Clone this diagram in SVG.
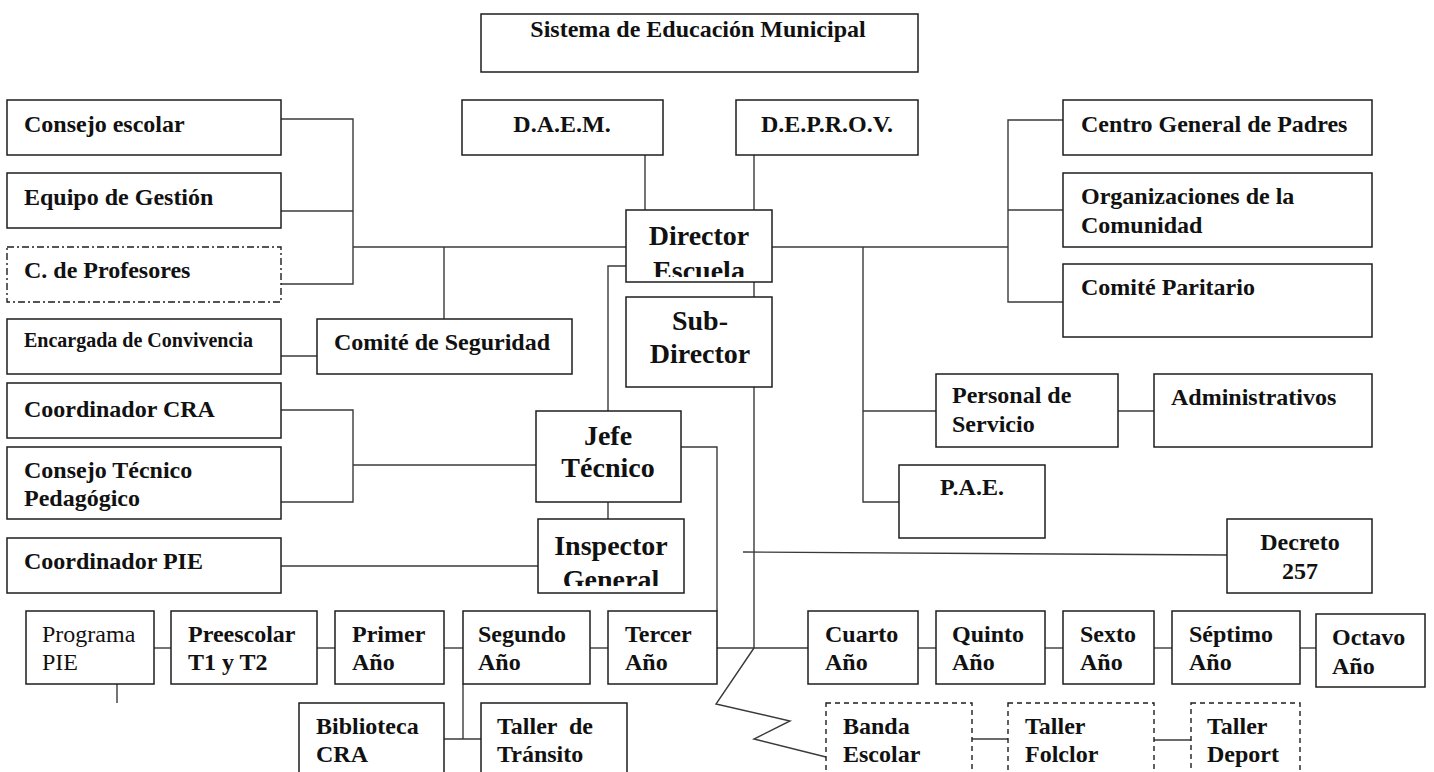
<svg xmlns="http://www.w3.org/2000/svg" width="1434" height="772" viewBox="0 0 1434 772">
<style>
  .box { fill: #ffffff; stroke: #1e1e1e; stroke-width: 1.5; }
  .dashdot { fill: #ffffff; stroke: #1e1e1e; stroke-width: 1.4; stroke-dasharray: 7 3 2 3; }
  .dash { fill: #ffffff; stroke: #1e1e1e; stroke-width: 1.4; stroke-dasharray: 5 4; }
  .conn { fill: none; stroke: #3a3a3a; stroke-width: 1.4; }
  text { font-family: "Liberation Serif", "Times New Roman", serif; fill: #111111; }
  .t { font-size: 24px; font-weight: bold; }
  .tn { font-size: 24px; font-weight: normal; }
  .ts { font-size: 20px; font-weight: bold; }
  .tl { font-size: 28px; font-weight: bold; }
  .c { text-anchor: middle; }
</style>
<defs>
  <clipPath id="clipDirector"><rect x="626" y="210" width="146" height="67"/></clipPath>
  <clipPath id="clipInspector"><rect x="538" y="519" width="146" height="67"/></clipPath>
</defs>
<rect width="1434" height="772" fill="#ffffff"/>

<g id="connectors">
  <!-- left group to Director -->
  <polyline class="conn" points="281,119 353,119 353,284 281,284"/>
  <line class="conn" x1="281" y1="211" x2="353" y2="211"/>
  <line class="conn" x1="353" y1="247" x2="626" y2="247"/>
  <line class="conn" x1="444" y1="247" x2="444" y2="319"/>
  <line class="conn" x1="281" y1="356" x2="317" y2="356"/>
  <!-- top -->
  <line class="conn" x1="645" y1="155" x2="645" y2="210"/>
  <line class="conn" x1="754" y1="155" x2="754" y2="210"/>
  <!-- right group -->
  <line class="conn" x1="772" y1="247" x2="1008" y2="247"/>
  <polyline class="conn" points="1063,120 1008,120 1008,302 1063,302"/>
  <line class="conn" x1="1008" y1="210" x2="1063" y2="210"/>
  <polyline class="conn" points="863,247 863,502 899,502"/>
  <line class="conn" x1="863" y1="411" x2="936" y2="411"/>
  <line class="conn" x1="1118" y1="411" x2="1154" y2="411"/>
  <!-- Director to Sub-Director and down -->
  <line class="conn" x1="754" y1="282" x2="754" y2="297"/>
  <line class="conn" x1="754" y1="387" x2="754" y2="648"/>
  <!-- Director to Jefe Tecnico -->
  <polyline class="conn" points="626,266 608,266 608,411"/>
  <line class="conn" x1="608" y1="502" x2="608" y2="519"/>
  <polyline class="conn" points="681,447 717,447 717,611"/>
  <!-- CRA / Consejo Tecnico -->
  <polyline class="conn" points="281,410 353,410 353,502 281,502"/>
  <line class="conn" x1="353" y1="465" x2="536" y2="465"/>
  <!-- Coordinador PIE -->
  <line class="conn" x1="281" y1="566" x2="538" y2="566"/>
  <!-- Decreto -->
  <line class="conn" x1="743" y1="552" x2="1227" y2="555"/>
  <!-- year row -->
  <line class="conn" x1="117" y1="684" x2="117" y2="703"/>
  <line class="conn" x1="154" y1="648" x2="171" y2="648"/>
  <line class="conn" x1="317" y1="648" x2="335" y2="648"/>
  <line class="conn" x1="444" y1="648" x2="463" y2="648"/>
  <line class="conn" x1="590" y1="648" x2="608" y2="648"/>
  <line class="conn" x1="717" y1="648" x2="808" y2="648"/>
  <line class="conn" x1="918" y1="648" x2="936" y2="648"/>
  <line class="conn" x1="1045" y1="648" x2="1063" y2="648"/>
  <line class="conn" x1="1154" y1="648" x2="1172" y2="648"/>
  <line class="conn" x1="1300" y1="648" x2="1316" y2="648"/>
  <!-- Segundo to Biblioteca / Taller -->
  <line class="conn" x1="463" y1="684" x2="463" y2="739"/>
  <line class="conn" x1="444" y1="739" x2="481" y2="739"/>
  <!-- zigzag to Banda -->
  <polyline class="conn" points="754,648 716,704 790,721 754,739 826,757"/>
  <line class="conn" x1="972" y1="739" x2="1008" y2="739"/>
  <line class="conn" x1="1154" y1="740" x2="1191" y2="740"/>
</g>

<g id="sistema"><rect class="box" x="481" y="14" width="437" height="58"/><text class="t c" x="698" y="37">Sistema de Educación Municipal</text></g>
<g id="daem"><rect class="box" x="462" y="100" width="201" height="55"/><text class="t c" x="562" y="132">D.A.E.M.</text></g>
<g id="deprov"><rect class="box" x="736" y="100" width="182" height="55"/><text class="t c" x="827" y="132">D.E.P.R.O.V.</text></g>

<g id="consejo-escolar"><rect class="box" x="7" y="100" width="274" height="55"/><text class="t" x="24" y="132">Consejo escolar</text></g>
<g id="equipo-gestion"><rect class="box" x="7" y="173" width="274" height="55"/><text class="t" x="24" y="205">Equipo de Gestión</text></g>
<g id="c-profesores"><rect class="dashdot" x="7" y="247" width="274" height="55"/><text class="t" x="24" y="278">C. de Profesores</text></g>
<g id="encargada"><rect class="box" x="7" y="319" width="274" height="55"/><text class="ts" x="24" y="347">Encargada de Convivencia</text></g>
<g id="comite-seguridad"><rect class="box" x="317" y="319" width="255" height="55"/><text class="t" x="334" y="350">Comité de Seguridad</text></g>
<g id="coord-cra"><rect class="box" x="7" y="383" width="274" height="55"/><text class="t" x="24" y="417">Coordinador CRA</text></g>
<g id="consejo-tecnico"><rect class="box" x="7" y="447" width="274" height="72"/><text class="t" x="24" y="478">Consejo Técnico</text><text class="t" x="24" y="506">Pedagógico</text></g>
<g id="coord-pie"><rect class="box" x="7" y="538" width="274" height="55"/><text class="t" x="24" y="569">Coordinador PIE</text></g>

<g id="director"><rect class="box" x="626" y="210" width="146" height="72"/><g clip-path="url(#clipDirector)"><text class="tl c" x="699" y="245">Director</text><text class="tl c" x="699" y="280">Escuela</text></g></g>
<g id="subdirector"><rect class="box" x="626" y="297" width="146" height="90"/><text class="tl c" x="700" y="330">Sub-</text><text class="tl c" x="700" y="363">Director</text></g>
<g id="jefe-tecnico"><rect class="box" x="536" y="411" width="145" height="91"/><text class="tl c" x="608" y="445">Jefe</text><text class="tl c" x="608" y="477">Técnico</text></g>
<g id="inspector"><rect class="box" x="538" y="519" width="146" height="74"/><g clip-path="url(#clipInspector)"><text class="tl c" x="611" y="555">Inspector</text><text class="tl c" x="611" y="589">General</text></g></g>

<g id="centro-padres"><rect class="box" x="1063" y="100" width="309" height="55"/><text class="t" x="1081" y="132">Centro General de Padres</text></g>
<g id="organizaciones"><rect class="box" x="1063" y="173" width="309" height="74"/><text class="t" x="1081" y="204">Organizaciones de la</text><text class="t" x="1081" y="233">Comunidad</text></g>
<g id="comite-paritario"><rect class="box" x="1063" y="264" width="309" height="73"/><text class="t" x="1081" y="295">Comité Paritario</text></g>
<g id="personal-servicio"><rect class="box" x="936" y="374" width="182" height="73"/><text class="t" x="952" y="403">Personal de</text><text class="t" x="952" y="432">Servicio</text></g>
<g id="administrativos"><rect class="box" x="1154" y="374" width="218" height="73"/><text class="t" x="1171" y="405">Administrativos</text></g>
<g id="pae"><rect class="box" x="899" y="465" width="146" height="73"/><text class="t c" x="972" y="495">P.A.E.</text></g>
<g id="decreto"><rect class="box" x="1227" y="519" width="145" height="74"/><text class="t c" x="1300" y="550">Decreto</text><text class="t c" x="1300" y="579">257</text></g>

<g id="programa-pie"><rect class="box" x="26" y="611" width="128" height="73"/><text class="tn" x="42" y="642">Programa</text><text class="tn" x="42" y="670">PIE</text></g>
<g id="preescolar"><rect class="box" x="171" y="611" width="146" height="73"/><text class="t" x="188" y="642">Preescolar</text><text class="t" x="188" y="670">T1 y T2</text></g>
<g id="primer"><rect class="box" x="335" y="611" width="109" height="73"/><text class="t" x="352" y="642">Primer</text><text class="t" x="352" y="670">Año</text></g>
<g id="segundo"><rect class="box" x="463" y="611" width="127" height="73"/><text class="t" x="478" y="642">Segundo</text><text class="t" x="478" y="670">Año</text></g>
<g id="tercer"><rect class="box" x="608" y="611" width="109" height="73"/><text class="t" x="625" y="642">Tercer</text><text class="t" x="625" y="670">Año</text></g>
<g id="cuarto"><rect class="box" x="808" y="611" width="110" height="73"/><text class="t" x="825" y="642">Cuarto</text><text class="t" x="825" y="670">Año</text></g>
<g id="quinto"><rect class="box" x="936" y="611" width="109" height="73"/><text class="t" x="952" y="642">Quinto</text><text class="t" x="952" y="670">Año</text></g>
<g id="sexto"><rect class="box" x="1063" y="611" width="91" height="73"/><text class="t" x="1080" y="642">Sexto</text><text class="t" x="1080" y="670">Año</text></g>
<g id="septimo"><rect class="box" x="1172" y="611" width="128" height="73"/><text class="t" x="1189" y="642">Séptimo</text><text class="t" x="1189" y="670">Año</text></g>
<g id="octavo"><rect class="box" x="1316" y="614" width="109" height="73"/><text class="t" x="1332" y="645">Octavo</text><text class="t" x="1332" y="674">Año</text></g>

<g id="biblioteca-cra"><rect class="box" x="299" y="703" width="145" height="90"/><text class="t" x="316" y="734">Biblioteca</text><text class="t" x="316" y="762">CRA</text></g>
<g id="taller-transito"><rect class="box" x="481" y="703" width="146" height="90"/><text class="t" x="497" y="734" word-spacing="6">Taller de</text><text class="t" x="497" y="762">Tránsito</text></g>
<g id="banda-escolar"><rect class="dash" x="826" y="703" width="146" height="90"/><text class="t" x="843" y="734">Banda</text><text class="t" x="843" y="762">Escolar</text></g>
<g id="taller-folclor"><rect class="dash" x="1008" y="703" width="146" height="90"/><text class="t" x="1025" y="734">Taller</text><text class="t" x="1025" y="762">Folclor</text></g>
<g id="taller-deport"><rect class="dash" x="1191" y="703" width="109" height="90"/><text class="t" x="1207" y="734">Taller</text><text class="t" x="1207" y="762">Deport</text></g>
</svg>
